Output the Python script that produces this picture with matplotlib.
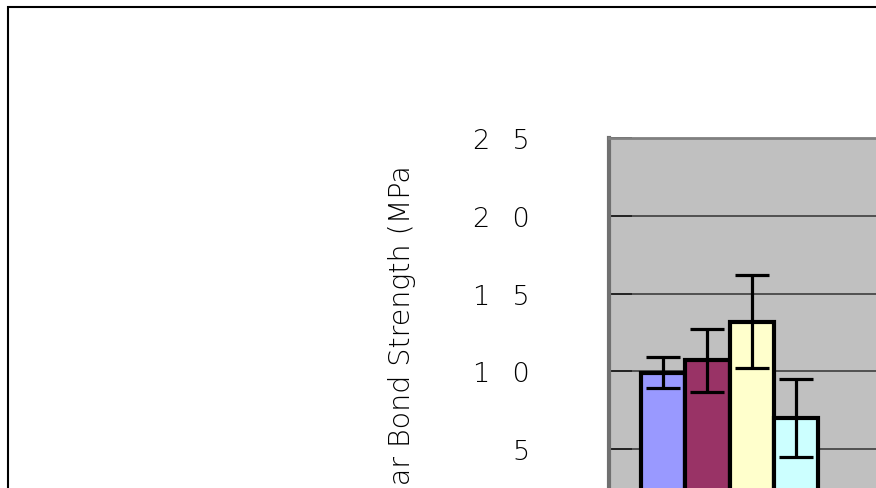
import matplotlib
matplotlib.use("Agg")
import matplotlib.pyplot as plt
from matplotlib.patches import Rectangle

# values (first group only is visible)
bar_values = [9.9, 10.7, 13.2, 7.0]
bar_errors = [1.0, 2.0, 3.0, 2.5]
bar_colors = ["#9999FF", "#993366", "#FFFFCC", "#CCFFFF"]
y_ticks = [5, 10, 15, 20, 25]
y_tick_labels = ["5", "1\u2002 0", "1\u2002 5", "2\u2002 0", "2\u2002 5"]
y_label = "Shear Bond Strength (MPa"

W, H = 876, 489
fig = plt.figure(figsize=(W / 100, H / 100), dpi=100)
fig.patch.set_facecolor("white")

# axes run past the right and bottom edges, like the cropped original
ax_left, ax_top, ax_bottom, ax_right = 609, 139.3, 527.7, 1100
ax = fig.add_axes([ax_left / W, (H - ax_bottom) / H,
                   (ax_right - ax_left) / W, (ax_bottom - ax_top) / H])
ax.set_facecolor("#C0C0C0")

x = list(range(len(bar_values)))
ax.bar(x, bar_values, width=1.0, color=bar_colors, edgecolor="black",
       linewidth=3, zorder=3)
ax.errorbar(x, bar_values, yerr=bar_errors, fmt="none", ecolor="black",
            elinewidth=2.3, capsize=12.5, capthick=2.3, zorder=4)

unit = 44.3
xl = -0.5 - (641 - ax_left) / unit
ax.set_xlim(xl, xl + (ax_right - ax_left) / unit)
ax.set_ylim(0, 25)

ax.set_yticks(y_ticks)
ax.set_yticklabels(y_tick_labels, fontweight="light")
ax.tick_params(axis="y", direction="in", length=16.5, width=1.3,
               color="#222222", pad=57, labelsize=19.5, labelcolor="black")
ax.tick_params(axis="x", bottom=False, labelbottom=False)
ax.yaxis.grid(True, color="#333333", linewidth=1.1, zorder=1)
ax.set_axisbelow(True)

for side in ["right", "bottom"]:
    ax.spines[side].set_visible(False)
ax.spines["left"].set_color("#707070")
ax.spines["left"].set_linewidth(3)
ax.spines["top"].set_color("#808080")
ax.spines["top"].set_linewidth(2)

fig.text(402 / W, 1 - 165 / H, y_label, rotation=90, ha="center", va="top",
         fontsize=20.5, fontweight="light", color="black")

# outer chart frame, cut by the image edge
fig.add_artist(Rectangle((7.5 / W, -0.2), 1.2, (H - 8) / H + 0.2, fill=False,
                         edgecolor="black", linewidth=1.5,
                         transform=fig.transFigure))

fig.savefig("out.png", dpi=100)
